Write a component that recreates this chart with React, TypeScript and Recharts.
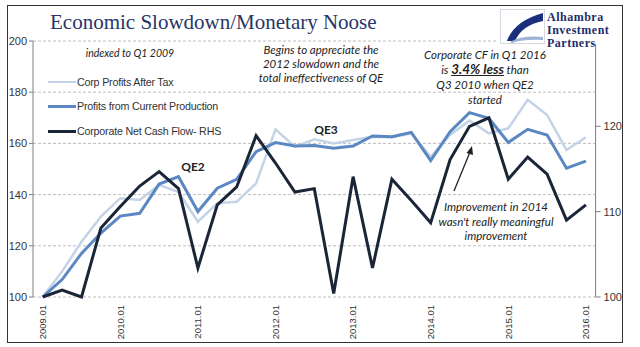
import React from 'react'
import { CartesianGrid, Line, LineChart, XAxis, YAxis } from 'recharts'

// quarterly categories, 2009Q1 .. 2016Q1
const quarters = [
  '2009.01', '2009.02', '2009.03', '2009.04',
  '2010.01', '2010.02', '2010.03', '2010.04',
  '2011.01', '2011.02', '2011.03', '2011.04',
  '2012.01', '2012.02', '2012.03', '2012.04',
  '2013.01', '2013.02', '2013.03', '2013.04',
  '2014.01', '2014.02', '2014.03', '2014.04',
  '2015.01', '2015.02', '2015.03', '2015.04',
  '2016.01',
]

const corpProfitsAfterTax = [
  100, 110, 121.6, 131.4, 138.6, 137.9, 143.8, 141, 129.4, 136.6, 137.2, 144.4,
  165.5, 158.7, 161.6, 160, 161.3, 162.6, 162.4, 163.9, 154.8, 163.3, 168.9, 163.9,
  165.9, 177, 171.1, 157.4, 162.4,
]

const profitsCurrentProduction = [
  100, 106.8, 117, 125, 131.6, 132.7, 144.1, 147, 133.4, 142.5, 146, 156.8,
  160.3, 159, 159.2, 158.1, 159, 162.9, 162.6, 164.3, 153.3, 164.6, 172, 169.8,
  160.4, 165.5, 163.3, 150.3, 153.1,
]

// right hand scale
const netCashFlow = [
  100, 100.8, 100, 108.1, 110.6, 113, 114.7, 112.7, 103.4, 110.8, 112.9, 118.9,
  115.7, 112.3, 112.7, 100.4, 114.1, 103.4, 113.8, 111.3, 108.7, 116.1, 120, 121,
  113.8, 116.4, 114.4, 109, 110.8,
]

const leftTicks = [100, 120, 140, 160, 180, 200]
const rightTicks = [100, 110, 120]

const rows = quarters.map((q, i) => ({
  pos: i + 0.5,
  q,
  afterTax: corpProfitsAfterTax[i],
  production: profitsCurrentProduction[i],
  cashFlow: netCashFlow[i],
}))

const labelTicks = quarters.map((q, i) => (q.endsWith('.01') ? i + 0.5 : -1)).filter(v => v >= 0)
const markTicks = labelTicks.map(v => v - 0.5)

const LIGHT = '#C5D3E7'
const MID = '#5B87C3'
const DARK = '#1A2637'
const sans = '"Liberation Sans", Arial, sans-serif'
const note = 'Lato, "Open Sans", sans-serif'

const QuarterTick = (props: any) => {
  const { x, y, payload } = props
  const label = quarters[Math.round(payload.value - 0.5)]
  return (
    <text
      x={x}
      y={y}
      dy="0.35em"
      transform={`rotate(-90 ${x} ${y})`}
      textAnchor="end"
      fontSize={9.5}
      fontFamily={sans}
      fill="#333"
    >
      {label}
    </text>
  )
}

const Note = ({ x, y, w = 220, children, style }: any) => (
  <div
    style={{
      position: 'absolute',
      left: x - w / 2,
      top: y - 8,
      width: w,
      textAlign: 'center',
      fontFamily: note,
      fontStyle: 'italic',
      fontSize: 11.5,
      lineHeight: '16px',
      color: '#222',
      whiteSpace: 'nowrap',
      ...style,
    }}
  >
    {children}
  </div>
)

const LegendRow = ({ y, color, width, label }: any) => (
  <div style={{ position: 'absolute', left: 48, top: y - 8, height: 16, display: 'flex', alignItems: 'center' }}>
    <span style={{ display: 'inline-block', width: 28, height: width, background: color, marginRight: 1 }} />
    <span style={{ fontFamily: sans, fontSize: 10.7, color: '#333', letterSpacing: -0.2 }}>{label}</span>
  </div>
)

const logoLine = (text: string, top: number) => (
  <div
    style={{
      position: 'absolute',
      left: 51,
      top,
      fontFamily: '"Liberation Serif", serif',
      fontWeight: 'bold',
      fontSize: 12,
      lineHeight: '12px',
      letterSpacing: 0.5,
      color: '#1E2C6C',
      whiteSpace: 'nowrap',
    }}
  >
    {text}
  </div>
)

export default function App() {
  return (
    <div style={{ position: 'fixed', left: 0, top: 0, width: 640, height: 347, background: '#fff', overflow: 'hidden' }}>
      <LineChart width={640} height={347} data={rows} margin={{ top: 41, right: 0, bottom: 0, left: 0 }}>
        <CartesianGrid vertical={false} yAxisId="left" stroke="#BDBDBD" strokeDasharray="3 2" />
        <XAxis
          xAxisId="marks"
          dataKey="pos"
          type="number"
          domain={[0, 29]}
          ticks={markTicks}
          tick={false}
          height={0}
          tickSize={5}
          stroke="#7F7F7F"
        />
        <XAxis
          xAxisId="labels"
          dataKey="pos"
          type="number"
          domain={[0, 29]}
          ticks={labelTicks}
          tick={QuarterTick}
          tickLine={false}
          axisLine={false}
          height={50}
        />
        <YAxis
          yAxisId="left"
          domain={[100, 200]}
          ticks={leftTicks}
          width={33}
          tickSize={4}
          tickMargin={2}
          stroke="#7F7F7F"
          tick={{ fontSize: 11, fontFamily: sans, fill: '#333' }}
        />
        <YAxis
          yAxisId="right"
          orientation="right"
          domain={[100, 130]}
          ticks={rightTicks}
          width={44.4}
          tickSize={5}
          tickMargin={3}
          stroke="#7F7F7F"
          tick={{ fontSize: 11, fontFamily: sans, fill: '#333', textAnchor: 'start' }}
        />
        <Line xAxisId="marks" yAxisId="left" dataKey="afterTax" stroke={LIGHT} strokeWidth={2.5} dot={false} isAnimationActive={false} />
        <Line xAxisId="marks" yAxisId="left" dataKey="production" stroke={MID} strokeWidth={3} dot={false} isAnimationActive={false} />
        <Line xAxisId="marks" yAxisId="right" dataKey="cashFlow" stroke={DARK} strokeWidth={3} dot={false} isAnimationActive={false} />
      </LineChart>

      {/* frame */}
      <div style={{ position: 'absolute', left: 7, top: 5, width: 614, height: 336, border: '1px solid #333' }} />

      {/* title */}
      <div
        style={{
          position: 'absolute',
          left: 50,
          top: 10,
          fontFamily: '"Liberation Serif", "DejaVu Serif", serif',
          fontSize: 21,
          color: '#283668',
          whiteSpace: 'nowrap',
        }}
      >
        Economic Slowdown/Monetary Noose
      </div>

      {/* logo */}
      <div style={{ position: 'absolute', left: 496, top: 8, width: 126, height: 36, background: '#fff' }}>
        <svg width={46} height={36} style={{ position: 'absolute', left: 4, top: 1 }}>
          <rect x={0.5} y={0.5} width={44} height={34} fill="#fff" stroke="#D5D9E2" />
          <path d="M 7 32 Q 14 12 43 4 L 43 12 Q 22 16 15 32 Z" fill="#1C2F7D" />
          <path d="M 10 33 Q 22 26 43 28 L 43 31 Q 24 30 12 34 Z" fill="#9FB3D6" />
        </svg>
        {logoLine('Alhambra', 3)}
        {logoLine('Investment', 16)}
        {logoLine('Partners', 29)}
      </div>

      {/* legend */}
      <LegendRow y={82} color={LIGHT} width={2.5} label="Corp Profits After Tax" />
      <LegendRow y={106} color={MID} width={3} label="Profits from Current Production" />
      <LegendRow y={131} color={DARK} width={3} label="Corporate Net Cash Flow- RHS" />

      {/* annotations */}
      <Note x={130} y={53} style={{ fontSize: 10.5 }}>indexed to Q1 2009</Note>
      <Note x={321} y={51} style={{ lineHeight: '14px' }}>
        Begins to appreciate the
        <br />
        2012 slowdown and the
        <br />
        total ineffectiveness of QE
      </Note>
      <Note x={485} y={55} style={{ lineHeight: '15px' }}>
        Corporate CF in Q1 2016
        <br />
        is <span style={{ fontWeight: 'bold', fontSize: 13.5, textDecoration: 'underline' }}>3.4% less</span> than
        <br />
        Q3 2010 when QE2
        <br />
        started
      </Note>
      <Note x={496} y={208} style={{ lineHeight: '14.5px' }}>
        Improvement in 2014
        <br />
        wasn't really meaningful
        <br />
        improvement
      </Note>
      <Note x={193} y={167} style={{ fontStyle: 'normal', fontWeight: 'bold', fontSize: 12 }}>QE2</Note>
      <Note x={326} y={130} style={{ fontStyle: 'normal', fontWeight: 'bold', fontSize: 12 }}>QE3</Note>

      {/* arrow */}
      <svg width={640} height={347} style={{ position: 'absolute', left: 0, top: 0, pointerEvents: 'none' }}>
        <line x1={454} y1={191} x2={470} y2={152} stroke="#222" strokeWidth={1.3} />
        <polygon points="472,146 466.5,153 473,155" fill="#222" />
      </svg>
    </div>
  )
}
